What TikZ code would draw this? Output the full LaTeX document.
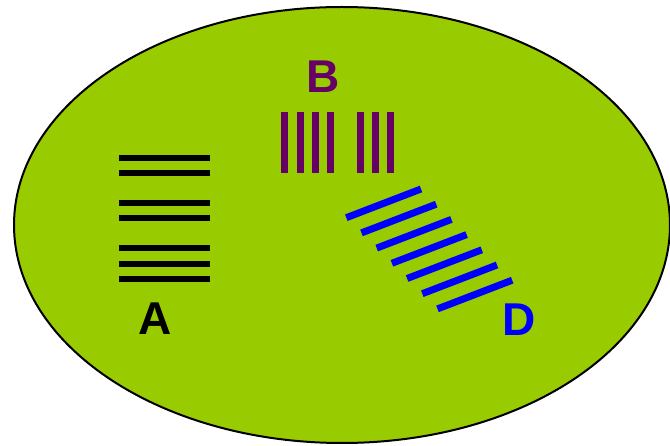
\documentclass[tikz,border=0pt]{standalone}
\usepackage{fontspec}
\setmainfont{Liberation Sans}
\definecolor{leaf}{HTML}{99CC00}
\definecolor{plum}{HTML}{660066}
\definecolor{pureblue}{HTML}{0000FF}
\tikzset{
  letter/.style={font=\bfseries\fontsize{46}{46}\selectfont, anchor=base, inner sep=0pt},
  hbar/.style={line width=6pt, black},
  vbar/.style={line width=7pt, plum},
  sbar/.style={line width=7pt, pureblue},
}
\begin{document}
\begin{tikzpicture}[x=1pt,y=-1pt]
\useasboundingbox (0,0) rectangle (670,446);
\clip (0,0) rectangle (670,446);
% field
\draw[fill=leaf, line width=2pt] (342,225) ellipse [x radius=328, y radius=218];
% group A: horizontal bars
\foreach \y in {157.7,173,203,218.3,248.3,263.7,278.7}
  \draw[hbar] (119.3,\y) -- (210.3,\y);
\node[letter] (A) at (155,335) {A};
% group B: vertical bars
\foreach \x in {284,300.5,315,330.3,360.8,375.8,390.7}
  \draw[vbar] (\x,111.7) -- (\x,173.3);
\node[letter, text=plum] (B) at (322.7,92.7) {B};
% group D: slanted bars
\foreach \i in {0,...,6}
  \draw[sbar] ({346.3+15.2*\i},{217.7+15.2*\i}) -- ({421+15.2*\i},{189+15.2*\i});
\node[letter, text=pureblue] (D) at (519,335.7) {D};
\end{tikzpicture}
\end{document}
